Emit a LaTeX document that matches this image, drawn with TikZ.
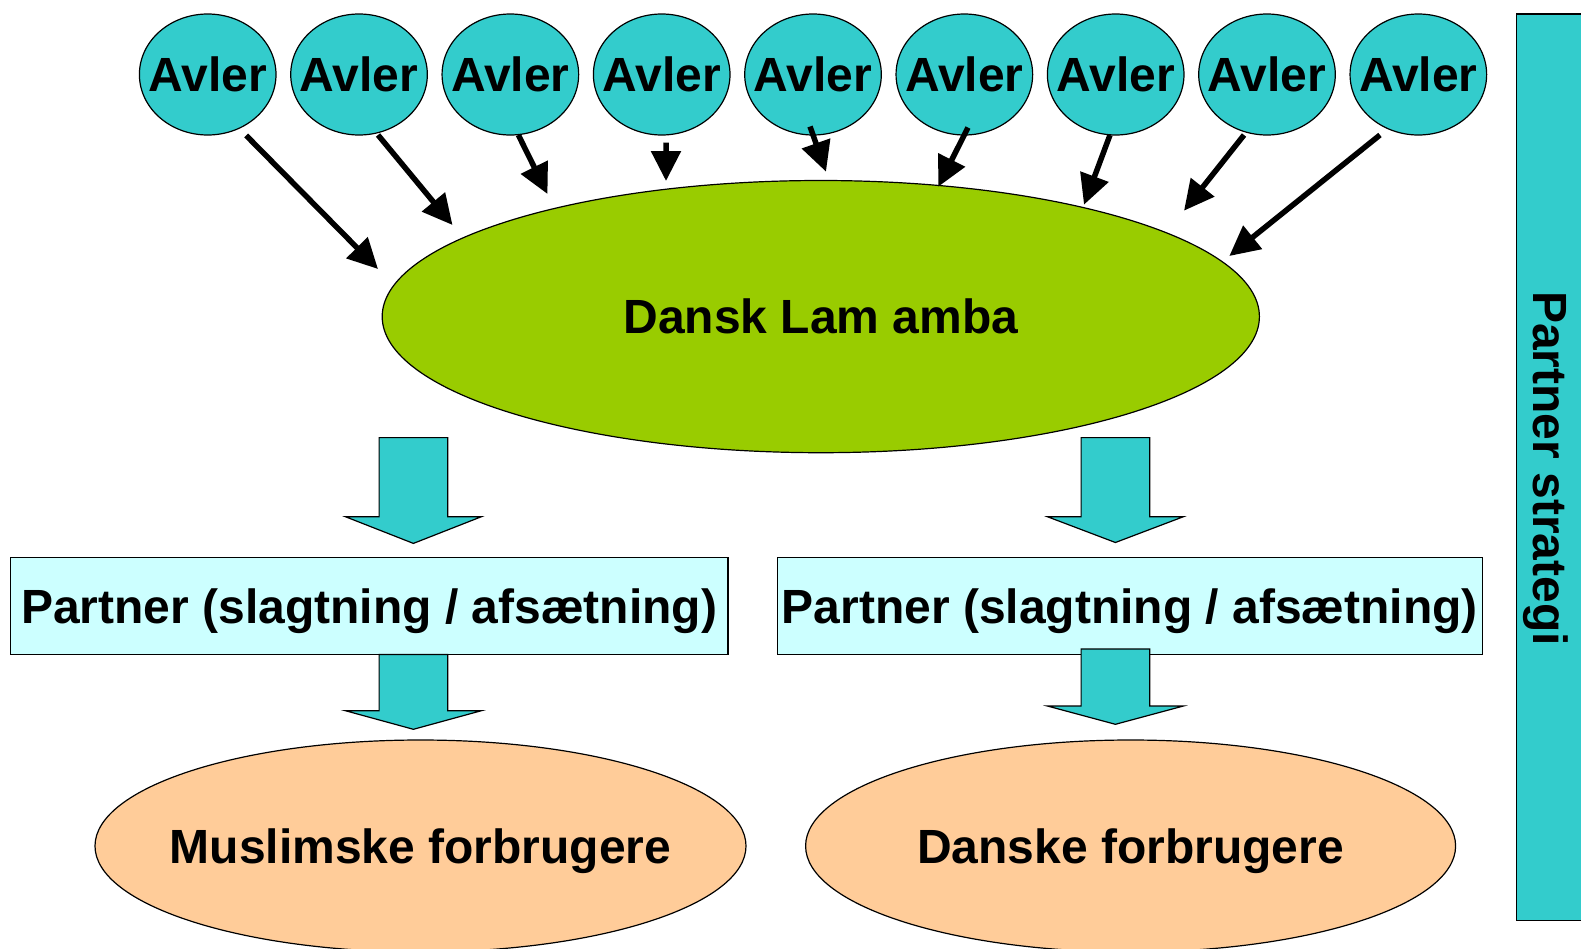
\documentclass[tikz,border=0pt]{standalone}
\usepackage{fontspec}
\setmainfont{Liberation Sans}
\usetikzlibrary{shapes.geometric,arrows.meta}
\definecolor{avlercyan}{HTML}{33CCCC}
\definecolor{lamgreen}{HTML}{99CC00}
\definecolor{paleblue}{HTML}{CCFFFF}
\definecolor{peach}{HTML}{FFCC99}
\newcommand{\clab}[1]{\makebox[0pt]{#1}}
\tikzset{
  txt/.style={font=\fontsize{48}{50}\selectfont\bfseries, text height=44pt, text depth=10pt, inner sep=0pt},
  outline/.style={draw=black, line width=1.2pt},
  avler/.style={txt, outline, ellipse, fill=avlercyan, minimum width=136.6pt, minimum height=121pt},
  hub/.style={txt, outline, ellipse, fill=lamgreen, minimum width=877.2pt, minimum height=272.2pt},
  market/.style={txt, outline, ellipse, fill=peach, minimum width=651pt, minimum height=212pt},
  partner/.style={txt, outline, rectangle, fill=paleblue, minimum height=96.8pt},
  feed/.style={-{Triangle[length=30pt,width=29pt]}, line width=5.5pt},
  blockarrow/.style={outline, fill=avlercyan, line join=miter}
}
\begin{document}
\begin{tikzpicture}[x=1pt,y=-1pt]
\path[use as bounding box, clip] (0,0) rectangle (1581,948);

\node[hub] (lam) at (820.8,316.6) {\clab{Dansk Lam amba}};
\foreach \i in {1,...,9}
  \node[avler] (a\i) at ({207.7+151.33*(\i-1)},74.5) {\clab{Avler}};

% avlere -> Dansk Lam
\foreach \i/\dx/\dy/\tx/\ty in {1/38.5/61/378/269, 2/19/60.5/452.5/225, 3/8/60.5/547.5/194,
    4/4.3/68/666/181, 5/-3/52/826/171.7, 6/3.6/53/938.3/186.7,
    7/-5.7/60.5/1084/204.7, 8/-23/60.5/1184/210.7, 9/-38.4/60.5/1229.3/256}{
  \coordinate (t\i) at (\tx,\ty);
  \draw[feed] ([shift={(\dx,\dy)}]a\i.center) -- (t\i);
}

\node[partner, minimum width=717.9pt] (p1) at (369.05,606) {Partner (slagtning / afsætning)};
\node[partner, minimum width=704.8pt] (p2) at (1129.8,606) {Partner (slagtning / afsætning)};

\foreach \x/\ya/\yb/\yc in {413.4/437.6/516.7/543.4, 1115.4/437.6/516.7/542.5,
    413.4/654.4/710.7/729.3, 1115.4/649/706/724.3}
  \draw[blockarrow] (\x-34.3,\ya) -- (\x+34.3,\ya) -- (\x+34.3,\yb) -- (\x+68,\yb)
    -- (\x,\yc) -- (\x-68,\yb) -- (\x-34.3,\yb) -- cycle;

\node[market] (muslim) at (420.5,846) {\clab{Muslimske forbrugere}};
\node[market, minimum width=650pt] (dansk) at (1130.6,846) {\clab{Danske forbrugere}};

\node[outline, fill=avlercyan, minimum width=83.5pt, minimum height=906.6pt] (bar) at (1558.25,467.3) {};
\node[txt, rotate=-90] (strategi) at (1550,468.5) {Partner strategi};
\end{tikzpicture}
\end{document}
